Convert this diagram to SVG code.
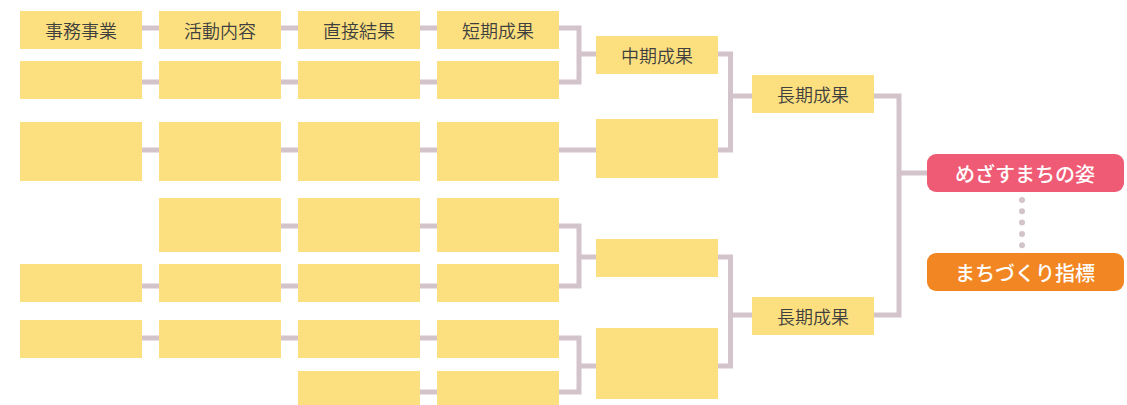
<svg xmlns="http://www.w3.org/2000/svg" width="1127" height="405" viewBox="0 0 1127 405">
<style>
.b{fill:#FCDF7E}
.c{fill:none;stroke:#D3C3CB;stroke-width:5}
.t{font-family:"Noto Sans CJK JP","Noto Sans",sans-serif;font-size:18px;fill:#3f3f3f;text-anchor:middle;dominant-baseline:central;font-weight:350}
.w{font-family:"Noto Sans CJK JP","Noto Sans",sans-serif;font-size:20px;fill:#ffffff;text-anchor:middle;dominant-baseline:central;font-weight:500}
</style>
<rect width="1127" height="405" fill="#ffffff"/>
<g id="connectors" class="c">
<path d="M142 28H159M281 28H298M420 28H437"/>
<path d="M142 82H159M281 82H298M420 82H437"/>
<path d="M142 150H159M281 150H298M420 150H437M559 150H596"/>
<path d="M281 226H298M420 226H437"/>
<path d="M142 286H159M281 286H298M420 286H437"/>
<path d="M142 338H159M281 338H298M420 338H437"/>
<path d="M420 392H437"/>
<path d="M559 28H579V82H559M579 54H596"/>
<path d="M559 226H579V286H559M579 257H596"/>
<path d="M559 338H579V392H559M579 366H596"/>
<path d="M718 54H730.5V150H718M730.5 96H752"/>
<path d="M718 257H730.5V366H718M730.5 315H752"/>
<path d="M874 96H899V315H874M899 173H927"/>
</g>
<g id="c1r1"><rect class="b" x="20" y="11" width="122" height="38"/><text class="t" x="81" y="30">事務事業</text></g>
<g id="c2r1"><rect class="b" x="159" y="11" width="122" height="38"/><text class="t" x="220" y="30">活動内容</text></g>
<g id="c3r1"><rect class="b" x="298" y="11" width="122" height="38"/><text class="t" x="359" y="30">直接結果</text></g>
<g id="c4r1"><rect class="b" x="437" y="11" width="122" height="38"/><text class="t" x="498" y="30">短期成果</text></g>
<g id="c1r2"><rect class="b" x="20" y="61" width="122" height="38"/></g>
<g id="c2r2"><rect class="b" x="159" y="61" width="122" height="38"/></g>
<g id="c3r2"><rect class="b" x="298" y="61" width="122" height="38"/></g>
<g id="c4r2"><rect class="b" x="437" y="61" width="122" height="38"/></g>
<g id="c1r3"><rect class="b" x="20" y="122" width="122" height="59"/></g>
<g id="c2r3"><rect class="b" x="159" y="122" width="122" height="59"/></g>
<g id="c3r3"><rect class="b" x="298" y="122" width="122" height="59"/></g>
<g id="c4r3"><rect class="b" x="437" y="122" width="122" height="59"/></g>
<g id="c2r4"><rect class="b" x="159" y="198" width="122" height="54"/></g>
<g id="c3r4"><rect class="b" x="298" y="198" width="122" height="54"/></g>
<g id="c4r4"><rect class="b" x="437" y="198" width="122" height="54"/></g>
<g id="c1r5"><rect class="b" x="20" y="264" width="122" height="38"/></g>
<g id="c2r5"><rect class="b" x="159" y="264" width="122" height="38"/></g>
<g id="c3r5"><rect class="b" x="298" y="264" width="122" height="38"/></g>
<g id="c4r5"><rect class="b" x="437" y="264" width="122" height="38"/></g>
<g id="c1r6"><rect class="b" x="20" y="320" width="122" height="38"/></g>
<g id="c2r6"><rect class="b" x="159" y="320" width="122" height="38"/></g>
<g id="c3r6"><rect class="b" x="298" y="320" width="122" height="38"/></g>
<g id="c4r6"><rect class="b" x="437" y="320" width="122" height="38"/></g>
<g id="c3r7"><rect class="b" x="298" y="371" width="122" height="34"/></g>
<g id="c4r7"><rect class="b" x="437" y="371" width="122" height="34"/></g>
<g id="mid1"><rect class="b" x="596" y="36" width="122" height="38"/><text class="t" x="657" y="55">中期成果</text></g>
<g id="mid2"><rect class="b" x="596" y="119" width="122" height="59"/></g>
<g id="mid3"><rect class="b" x="596" y="239" width="122" height="38"/></g>
<g id="mid4"><rect class="b" x="596" y="328" width="122" height="71"/></g>
<g id="long1"><rect class="b" x="752" y="75" width="122" height="38"/><text class="t" x="813" y="94">長期成果</text></g>
<g id="long2"><rect class="b" x="752" y="297" width="122" height="38"/><text class="t" x="813" y="316">長期成果</text></g>
<g id="vision"><rect x="927" y="154" width="197" height="38" rx="9" fill="#EF5A74"/><text class="w" x="1025" y="173">めざすまちの姿</text></g>
<g id="dots" fill="#D3C3CB"><circle cx="1022" cy="200" r="3"/><circle cx="1022" cy="211.3" r="3"/><circle cx="1022" cy="222.6" r="3"/><circle cx="1022" cy="234" r="3"/><circle cx="1022" cy="245.3" r="3"/></g>
<g id="indicator"><rect x="927" y="253" width="197" height="38" rx="9" fill="#F28623"/><text class="w" x="1025" y="272">まちづくり指標</text></g>
</svg>
